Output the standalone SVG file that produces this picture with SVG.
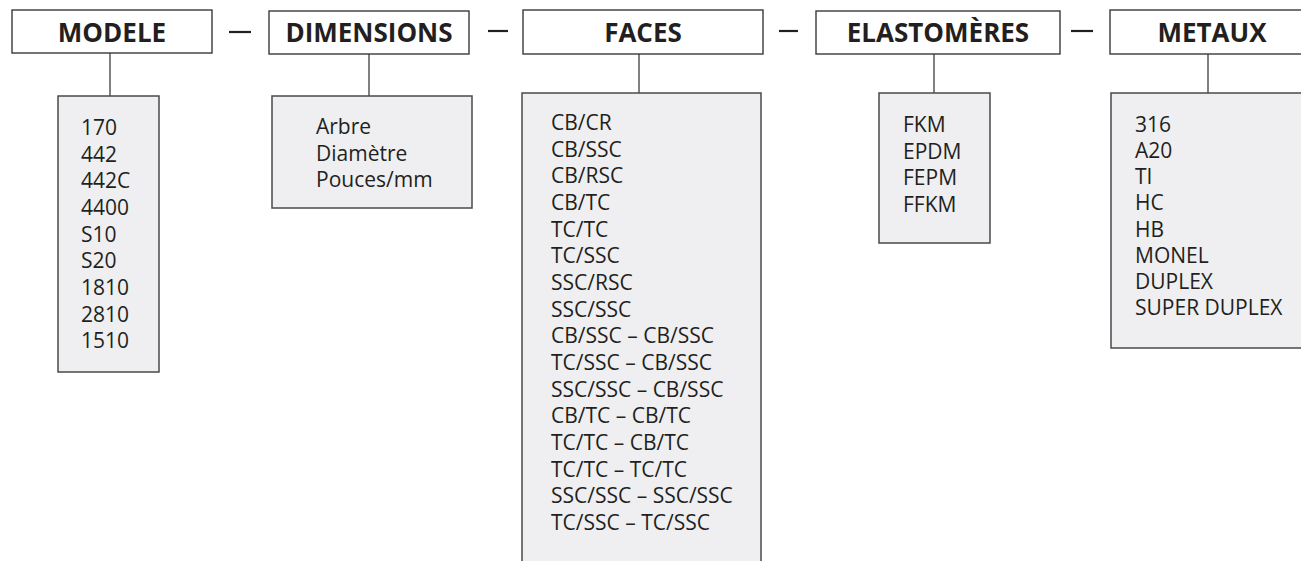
<svg xmlns="http://www.w3.org/2000/svg" width="1301" height="561" viewBox="0 0 1301 561">
<style>
.hdr{fill:#ffffff;stroke:#3a3a3a;stroke-width:1.4}
.lst{fill:#efeff1;stroke:#4a4a4a;stroke-width:1.5}
.ht{font-family:"Open Sans","Noto Sans",sans-serif;font-weight:bold;font-size:26px;fill:#231f20;text-anchor:middle}
.lt{font-family:"Open Sans","Noto Sans",sans-serif;font-size:21px;fill:#231f20}
.con{stroke:#4a4a4a;stroke-width:1.4;fill:none}
.dash{stroke:#231f20;stroke-width:2.2}
</style>
<rect width="1301" height="561" fill="#ffffff"/>
<g id="connectors">
<line class="con" x1="110" y1="53" x2="110" y2="96"/>
<line class="con" x1="369" y1="54" x2="369" y2="96"/>
<line class="con" x1="639" y1="54" x2="639" y2="93"/>
<line class="con" x1="934" y1="54" x2="934" y2="93"/>
<line class="con" x1="1208" y1="54" x2="1208" y2="93"/>
<line class="dash" x1="229" y1="32" x2="251" y2="32"/>
<line class="dash" x1="488" y1="31" x2="508" y2="31"/>
<line class="dash" x1="779" y1="31" x2="798" y2="31"/>
<line class="dash" x1="1071" y1="31" x2="1093" y2="31"/>
</g>
<g id="modele">
<rect class="hdr" x="12" y="10" width="200" height="43"/>
<text class="ht" x="112" y="42">MODELE</text>
</g>
<g id="dimensions">
<rect class="hdr" x="269" y="11" width="200" height="43"/>
<text class="ht" x="369" y="42">DIMENSIONS</text>
</g>
<g id="faces">
<rect class="hdr" x="523" y="10" width="240" height="44"/>
<text class="ht" x="643" y="42">FACES</text>
</g>
<g id="elastomeres">
<rect class="hdr" x="816" y="11" width="244" height="43"/>
<text class="ht" x="938" y="42">ELASTOMÈRES</text>
</g>
<g id="metaux">
<rect class="hdr" x="1110" y="10" width="210" height="44"/>
<text class="ht" x="1212" y="42">METAUX</text>
</g>
<g id="modele-list">
<rect class="lst" x="58" y="96" width="101" height="276"/>
<text class="lt" x="81" y="135">170</text>
<text class="lt" x="81" y="161.7">442</text>
<text class="lt" x="81" y="188.3">442C</text>
<text class="lt" x="81" y="215">4400</text>
<text class="lt" x="81" y="241.7">S10</text>
<text class="lt" x="81" y="268.3">S20</text>
<text class="lt" x="81" y="295">1810</text>
<text class="lt" x="81" y="321.7">2810</text>
<text class="lt" x="81" y="348.3">1510</text>
</g>
<g id="dimensions-list">
<rect class="lst" x="272" y="96" width="200" height="112"/>
<text class="lt" x="316" y="134">Arbre</text>
<text class="lt" x="316" y="161">Diamètre</text>
<text class="lt" x="316" y="187">Pouces/mm</text>
</g>
<g id="faces-list">
<rect class="lst" x="522" y="93" width="239" height="480"/>
<text class="lt" x="551" y="130">CB/CR</text>
<text class="lt" x="551" y="156.7">CB/SSC</text>
<text class="lt" x="551" y="183.3">CB/RSC</text>
<text class="lt" x="551" y="210">CB/TC</text>
<text class="lt" x="551" y="236.7">TC/TC</text>
<text class="lt" x="551" y="263.3">TC/SSC</text>
<text class="lt" x="551" y="290">SSC/RSC</text>
<text class="lt" x="551" y="316.7">SSC/SSC</text>
<text class="lt" x="551" y="343.3">CB/SSC – CB/SSC</text>
<text class="lt" x="551" y="370">TC/SSC – CB/SSC</text>
<text class="lt" x="551" y="396.7">SSC/SSC – CB/SSC</text>
<text class="lt" x="551" y="423.3">CB/TC – CB/TC</text>
<text class="lt" x="551" y="450">TC/TC – CB/TC</text>
<text class="lt" x="551" y="476.7">TC/TC – TC/TC</text>
<text class="lt" x="551" y="503.3">SSC/SSC – SSC/SSC</text>
<text class="lt" x="551" y="530">TC/SSC – TC/SSC</text>
</g>
<g id="elastomeres-list">
<rect class="lst" x="879" y="93" width="111" height="150"/>
<text class="lt" x="903" y="132">FKM</text>
<text class="lt" x="903" y="158.5">EPDM</text>
<text class="lt" x="903" y="185">FEPM</text>
<text class="lt" x="903" y="211.5">FFKM</text>
</g>
<g id="metaux-list">
<rect class="lst" x="1111" y="93" width="210" height="255"/>
<text class="lt" x="1135" y="132">316</text>
<text class="lt" x="1135" y="158">A20</text>
<text class="lt" x="1135" y="184">TI</text>
<text class="lt" x="1135" y="210">HC</text>
<text class="lt" x="1135" y="236.5">HB</text>
<text class="lt" x="1135" y="262.5">MONEL</text>
<text class="lt" x="1135" y="288.5">DUPLEX</text>
<text class="lt" x="1135" y="315">SUPER DUPLEX</text>
</g>
</svg>
